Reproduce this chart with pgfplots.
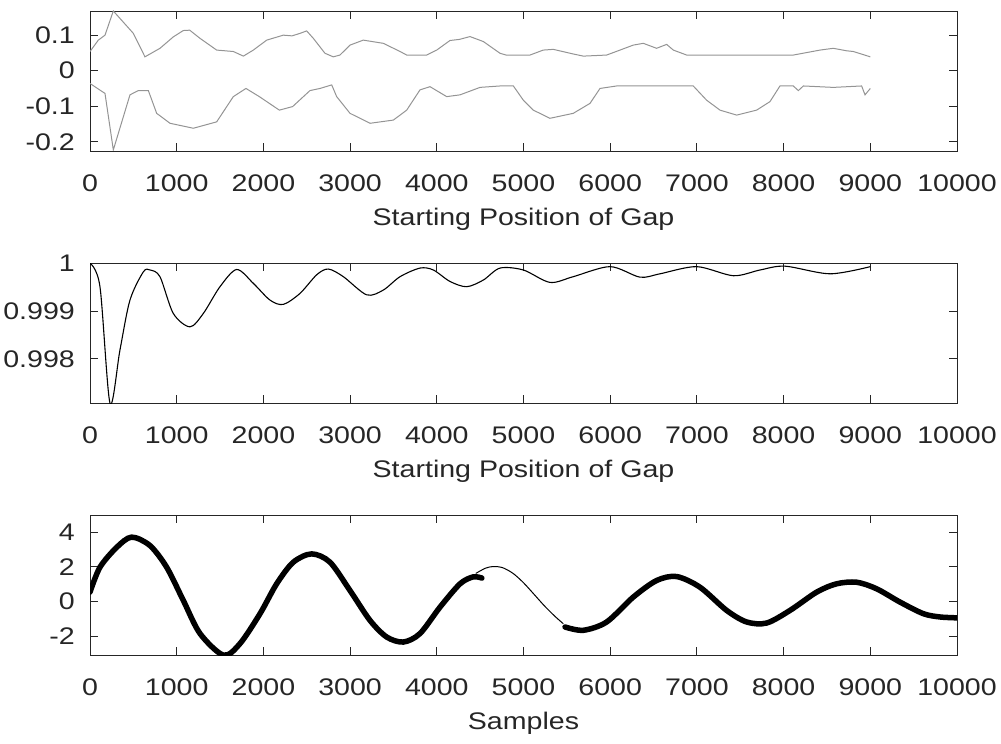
\documentclass[border=0pt]{standalone}
\usepackage{pgfplots}
\pgfplotsset{compat=1.18}
\usepackage{fontspec}
\setmainfont{Liberation Sans}[FakeStretch=1.19]
\definecolor{axc}{rgb}{0.15,0.15,0.15}
\begin{document}
\begin{tikzpicture}
\useasboundingbox (0pt,0pt) rectangle (1001pt,744pt);
\pgfplotsset{
 mystyle/.style={
  scale only axis, width=867pt, height=140pt,
  anchor=south west,
  xmin=0, xmax=10000, scaled ticks=false,
  xtick={0,1000,2000,3000,4000,5000,6000,7000,8000,9000,10000},
  xticklabels={0,1000,2000,3000,4000,5000,6000,7000,8000,9000,10000},
  tick align=inside, major tick length=8pt, minor tick num=0,
  axis line style={axc, line width=0.9pt},
  every tick/.style={axc, line width=0.9pt},
  tick label style={font=\fontsize{24}{28}\selectfont, text=axc},
  label style={font=\fontsize{24}{28}\selectfont, text=axc},
  xticklabel style={anchor=center, yshift=-32pt},
  yticklabel style={anchor=east, inner sep=0pt, xshift=-15pt},
  x label style={at={(axis description cs:0.5,0)}, anchor=center, yshift=-68pt},
 }
}
% ---------- top ----------
\begin{axis}[mystyle, at={(90pt,593pt)},
  ymin=-0.226, ymax=0.168,
  ytick={-0.2,-0.1,0,0.1}, yticklabels={-0.2,-0.1,0,0.1},
  xlabel={Starting Position of Gap}]
\addplot[black!42, line width=1pt] coordinates {
(0,0.054) (96,0.086) (173,0.1) (269,0.168) (500,0.105) (634,0.039) (807,0.063)
(960,0.095) (1076,0.113) (1150,0.114) (1269,0.091) (1461,0.058) (1653,0.054) (1769,0.041)
(1884,0.058) (2038,0.086) (2230,0.1) (2330,0.098) (2422,0.105) (2499,0.112) (2576,0.091)
(2710,0.049) (2806,0.039) (2883,0.044) (2999,0.072) (3152,0.086) (3383,0.077) (3576,0.054)
(3653,0.044) (3883,0.044) (3999,0.058) (4152,0.085) (4260,0.088) (4383,0.096) (4537,0.082)
(4729,0.049) (4800,0.044) (5075,0.044) (5228,0.058) (5344,0.060) (5574,0.047) (5690,0.041)
(5959,0.044) (6113,0.058) (6266,0.072) (6382,0.077) (6535,0.063) (6651,0.074) (6728,0.058)
(6882,0.044) (7420,0.044) (8112,0.044) (8266,0.051) (8420,0.058) (8573,0.063) (8727,0.056)
(8804,0.054) (9000,0.039)
};
\addplot[black!42, line width=1pt] coordinates {
(0,-0.036) (173,-0.064) (269,-0.223) (461,-0.068) (557,-0.056) (673,-0.056) (769,-0.12)
(923,-0.148) (1192,-0.162) (1461,-0.144) (1653,-0.073) (1799,-0.050) (1953,-0.073)
(2184,-0.111) (2337,-0.101) (2537,-0.056) (2653,-0.050) (2788,-0.040) (2845,-0.073)
(2999,-0.120) (3230,-0.148) (3499,-0.139) (3653,-0.111) (3806,-0.054) (3922,-0.045)
(4114,-0.073) (4268,-0.068) (4498,-0.047) (4729,-0.043) (4883,-0.043) (4998,-0.083)
(5113,-0.111) (5305,-0.134) (5574,-0.120) (5767,-0.092) (5882,-0.050) (6074,-0.043)
(6343,-0.043) (6958,-0.043) (7112,-0.083) (7266,-0.111) (7459,-0.125) (7689,-0.111)
(7843,-0.087) (7958,-0.043) (8112,-0.043) (8170,-0.056) (8228,-0.043) (8573,-0.047)
(8900,-0.043) (8939,-0.068) (9000,-0.050)
};
\end{axis}
% ---------- middle ----------
\begin{axis}[mystyle, at={(90pt,340.7pt)},
  ymin=0.99707, ymax=1.0,
  ytick={0.998,0.999,1}, yticklabels={0.998,0.999,1},
  xlabel={Starting Position of Gap}]
\addplot[black, line width=1.1pt, smooth] coordinates {
(0,1.0) (115,0.99951) (231,0.99707) (346,0.99819) (461,0.99923) (615,0.99982) (692,0.99986)
(807,0.99972) (961,0.99895) (1153,0.99867) (1307,0.99895) (1499,0.99951) (1692,0.99987)
(1884,0.99958) (2076,0.99923) (2230,0.99914) (2422,0.99937) (2615,0.99976) (2749,0.99988)
(2922,0.99972) (3191,0.99934) (3383,0.99944) (3576,0.99972) (3806,0.99990) (3960,0.99986)
(4152,0.99962) (4344,0.99951) (4537,0.99965) (4729,0.99990) (4998,0.99986) (5305,0.99960)
(5574,0.99972) (5998,0.99993) (6343,0.99971) (6574,0.99978) (6997,0.99993) (7420,0.99974)
(7728,0.99986) (8016,0.99994) (8535,0.99978) (9000,0.99993)
};
\end{axis}
% ---------- bottom ----------
\begin{axis}[mystyle, at={(90pt,89pt)},
  ymin=-3.1, ymax=5,
  ytick={-2,0,2,4}, yticklabels={-2,0,2,4},
  xlabel={Samples}]
\addplot[black, line width=1pt, smooth] coordinates {
(4450,1.62) (4560,1.92) (4652,2.02) (4760,1.95) (4880,1.62) (5000,1.08) (5120,0.42)
(5240,-0.25) (5360,-0.85) (5459,-1.29)
};
\addplot[black, line width=5.5pt, smooth, line cap=round] coordinates {
(0,0.54) (115,1.98) (308,3.13) (480,3.72) (692,3.23) (884,1.98) (1076,0.06) (1269,-1.86)
(1540,-3.11) (1730,-2.44) (1961,-0.71) (2153,1.02) (2345,2.27) (2557,2.75) (2768,2.27)
(2999,0.63) (3230,-1.10) (3422,-2.06) (3614,-2.35) (3806,-1.86) (4037,-0.33) (4268,1.02)
(4420,1.42) (4520,1.35)
};
\addplot[black, line width=5.5pt, smooth, line cap=round] coordinates {
(5479,-1.48) (5690,-1.67) (5959,-1.19) (6266,0.25) (6535,1.21) (6766,1.44) (7036,0.82)
(7343,-0.52) (7574,-1.19) (7805,-1.25) (8074,-0.52) (8382,0.54) (8612,1.02) (8843,1.11)
(9073,0.73) (9343,-0.04) (9612,-0.71) (9804,-0.90) (10000,-0.95)
};
\end{axis}
\end{tikzpicture}
\end{document}
